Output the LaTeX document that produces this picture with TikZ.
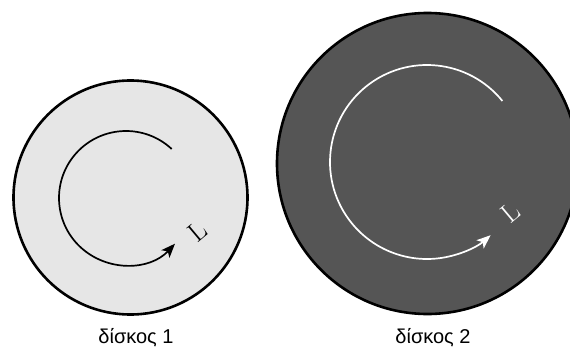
\documentclass[tikz,border=0pt]{standalone}
\usepackage{fontspec}
\newfontfamily\greekfont{Liberation Sans}
\usepackage{tikz}
\usetikzlibrary{arrows.meta,positioning}
\definecolor{disklight}{RGB}{230,230,230}
\definecolor{diskdark}{RGB}{85,85,85}

\begin{document}
\begin{tikzpicture}[
    x=1pt, y=1pt,
    disk/.style={
        circle,
        draw=black,
        line width=2.6pt,
        inner sep=0pt
    },
    spin/.style={
        line width=1.7pt,
        -{Stealth[length=14pt, width=11pt, inset=3.5pt]}
    },
    axislabel/.style={
        font=\fontsize{27}{27}\selectfont,
        rotate=40
    },
    caption/.style={
        font=\greekfont\fontsize{20}{24}\selectfont,
        anchor=base
    }
]

\useasboundingbox (0,0) rectangle (570,349);
\clip (0,0) rectangle (570,349);

% Disks
\node[disk, fill=disklight, minimum size=234pt] (disk1) at (130.5,151.5) {};
\node[disk, fill=diskdark, minimum size=301pt] (disk2) at (427.5,185.5) {};

% Rotation arrows
\draw[spin, black] ([shift={(47:67pt)}]126,151) arc[start angle=47, end angle=317, radius=67pt];
\draw[spin, white] ([shift={(39:97pt)}]427,187) arc[start angle=39, end angle=311, radius=97pt];

% Angular momentum labels
\node[axislabel, black] (L1) at (198,118) {L};
\node[axislabel, white] (L2) at (511,137) {L};

% Captions
\node[caption] (cap1) at (136,6) {δίσκος 1};
\node[caption] (cap2) at (433,6) {δίσκος 2};

\end{tikzpicture}
\end{document}
